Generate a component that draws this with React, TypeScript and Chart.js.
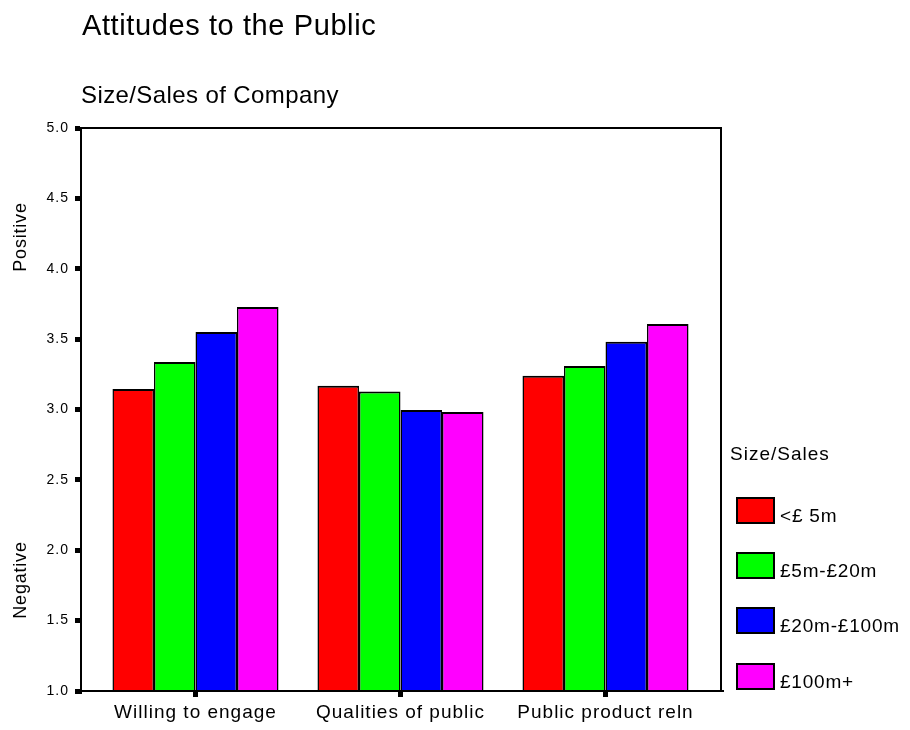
import React, { useEffect, useRef } from 'react';
import { Chart, registerables } from 'chart.js';

Chart.register(...registerables);

const chartTitle = 'Attitudes to the Public';
const chartSubtitle = 'Size/Sales of Company';
const legendTitle = 'Size/Sales';
const categories = ['Willing to engage', 'Qualities of public', 'Public product reln'];
const seriesNames = ['<£ 5m', '£5m-£20m', '£20m-£100m', '£100m+'];
const seriesColors = ['#ff0000', '#00ff00', '#0000ff', '#ff00ff'];
const under5m = [3.146, 3.169, 3.24];
const from5to20m = [3.337, 3.127, 3.309];
const from20to100m = [3.551, 2.996, 3.482];
const over100m = [3.728, 2.982, 3.607];
const seriesValues = [under5m, from5to20m, from20to100m, over100m];
const yMin = 1;
const yMax = 5;
const yStep = 0.5;
const upperAxisNote = 'Positive';
const lowerAxisNote = 'Negative';

const FONT = "'Liberation Sans', Arial, sans-serif";

const frameBorder = {
  id: 'frameBorder',
  beforeDraw(chart: any) {
    try {
      chart.ctx.letterSpacing = '1px';
    } catch (e) {
      /* ignore */
    }
  },
  afterDatasetsDraw(chart: any) {
    const { ctx, chartArea } = chart;
    ctx.save();
    ctx.strokeStyle = '#000';
    ctx.lineWidth = 2;
    ctx.strokeRect(chartArea.left, chartArea.top, chartArea.right - chartArea.left, chartArea.bottom - chartArea.top);
    ctx.restore();
  },
};

export default function App() {
  const canvasRef = useRef<HTMLCanvasElement | null>(null);

  useEffect(() => {
    document.body.style.margin = '0';
    const canvas = canvasRef.current;
    if (!canvas) return;
    const chart = new Chart(canvas, {
      type: 'bar',
      data: {
        datasets: seriesValues.map((vals, si) => ({
          label: seriesNames[si],
          data: vals.map((v, i) => ({ x: i, y: v })),
          backgroundColor: seriesColors[si],
          borderColor: '#000',
          borderWidth: { top: 2, left: 1.5, right: 1.5, bottom: 0 },
          borderSkipped: false,
          categoryPercentage: 0.81,
          barPercentage: 1,
        })),
      },
      options: {
        responsive: false,
        maintainAspectRatio: false,
        animation: false,
        layout: { padding: { left: 0, right: 189, top: 128, bottom: 0 } },
        plugins: {
          legend: { display: false },
          title: { display: false },
          tooltip: { enabled: false },
        },
        scales: {
          x: {
            type: 'linear',
            min: -0.5585,
            max: 2.5634,
            offset: false,
            bounds: 'data',
            afterBuildTicks: (scale: any) => {
              scale.ticks = categories.map((_, i) => ({ value: i }));
            },
            afterFit: (scale: any) => {
              scale.height = 39;
            },
            ticks: {
              autoSkip: false,
              maxRotation: 0,
              minRotation: 0,
              padding: 4,
              color: '#000',
              font: { family: FONT, size: 19 },
              callback: (v: any) => categories[Math.round(Number(v))] ?? '',
            },
            grid: {
              offset: false,
              drawOnChartArea: false,
              color: '#000',
              tickColor: '#000',
              tickLength: 6,
              tickWidth: 5,
              lineWidth: 5,
            },
            border: { display: true, color: '#000', width: 2 },
          },
          y: {
            type: 'linear',
            min: yMin,
            max: yMax,
            afterBuildTicks: (scale: any) => {
              const t: any[] = [];
              for (let v = yMin; v <= yMax + 1e-9; v += yStep) t.push({ value: Math.round(v * 10) / 10 });
              scale.ticks = t;
            },
            afterFit: (scale: any) => {
              scale.width = 81;
            },
            ticks: {
              padding: 6,
              color: '#000',
              font: { family: FONT, size: 14 },
              callback: (v: any) => Number(v).toFixed(1),
            },
            grid: {
              drawOnChartArea: false,
              color: '#000',
              tickColor: '#000',
              tickLength: 6,
              tickWidth: 5,
              lineWidth: 5,
            },
            border: { display: true, color: '#000', width: 2 },
          },
        },
      },
      plugins: [frameBorder],
    });
    return () => chart.destroy();
  }, []);

  const textBase: React.CSSProperties = {
    position: 'absolute',
    fontFamily: FONT,
    color: '#000',
    lineHeight: 1,
    whiteSpace: 'nowrap',
  };

  const boxTops = [497, 552, 607, 663];

  return (
    <div style={{ position: 'fixed', left: 0, top: 0, width: 910, height: 730, background: '#fff', overflow: 'hidden' }}>
      <canvas ref={canvasRef} width={910} height={730} style={{ position: 'absolute', left: 0, top: 0 }} />
      <div style={{ ...textBase, left: 82, top: 10.5, fontSize: 29, letterSpacing: '0.6px' }}>{chartTitle}</div>
      <div style={{ ...textBase, left: 81, top: 82.7, fontSize: 24, letterSpacing: '0.4px' }}>{chartSubtitle}</div>
      <div style={{ ...textBase, left: 19.5, top: 237, fontSize: 18, letterSpacing: '0.8px', transform: 'translate(-50%, -50%) rotate(-90deg)' }}>{upperAxisNote}</div>
      <div style={{ ...textBase, left: 19.5, top: 580, fontSize: 18, letterSpacing: '0.8px', transform: 'translate(-50%, -50%) rotate(-90deg)' }}>{lowerAxisNote}</div>
      <div style={{ ...textBase, left: 730, top: 444, fontSize: 19, letterSpacing: '1px' }}>{legendTitle}</div>
      {seriesNames.map((name, i) => (
        <React.Fragment key={name}>
          <div style={{ position: 'absolute', left: 736, top: boxTops[i], width: 39, height: 27, boxSizing: 'border-box', border: '2px solid #000', background: seriesColors[i] }} />
          <div style={{ ...textBase, left: 780, top: boxTops[i] + 25 - 16.1, fontSize: 19, letterSpacing: '0.8px' }}>{name}</div>
        </React.Fragment>
      ))}
    </div>
  );
}
